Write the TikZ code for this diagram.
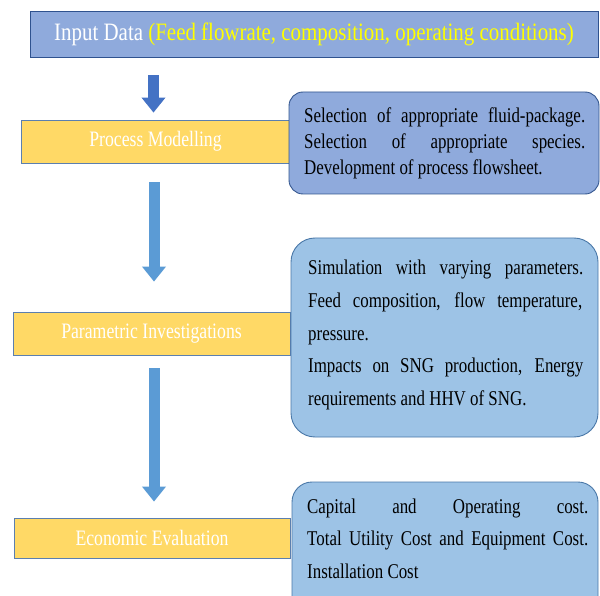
\documentclass[tikz,border=0pt]{standalone}
\usepackage{fontspec}
\usetikzlibrary{arrows.meta}

% Times-metric serif, slightly condensed
\newfontfamily\bodyfont[FakeStretch=0.805]{Liberation Serif}
\newfontfamily\headfont[FakeStretch=0.837]{Liberation Serif}

\definecolor{headfill}{HTML}{8FAADC}
\definecolor{headline}{HTML}{2F528F}
\definecolor{stagefill}{HTML}{FFD966}
\definecolor{stageline}{HTML}{5B7FAF}
\definecolor{notefillA}{HTML}{8FAADC}
\definecolor{notelineA}{HTML}{34578F}
\definecolor{notefillB}{HTML}{9DC3E6}
\definecolor{notelineB}{HTML}{4A78A8}
\definecolor{arrowdark}{HTML}{4472C4}
\definecolor{arrowlight}{HTML}{5B9BD5}
\definecolor{hiyellow}{HTML}{FFFF00}

% a line whose inter-word spaces are stretched to the given width
\newcommand\jline[2]{\makebox[#1][s]{#2}}

\tikzset{
  headbox/.style={draw=headline, line width=0.8pt, fill=headfill, inner sep=0pt,
    text=white, font=\headfont\fontsize{25}{28}\selectfont},
  stagebox/.style={draw=stageline, line width=0.8pt, fill=stagefill, inner sep=0pt,
    text=white, font=\bodyfont\fontsize{22}{26}\selectfont},
  notebox/.style={draw=#1, line width=0.9pt, inner sep=0pt},
  noteline/.style={anchor=base west, inner sep=0pt, text=black,
    font=\bodyfont\fontsize{21}{25}\selectfont},
  flow/.style={draw=#1, line width=11pt,
    -{Triangle[width=23pt,length=15pt,fill=#1]}},
}

\begin{document}
\begin{tikzpicture}[x=1pt,y=-1pt]
  \useasboundingbox (0,0) rectangle (600,596);
  \clip (0,0) rectangle (600,596);

  % header
  \node[headbox, minimum width=568pt, minimum height=46pt] (input) at (314,34)
    {Input Data \textcolor{hiyellow}{(Feed flowrate, composition, operating conditions)}};

  % the three stages
  \node[stagebox, minimum width=269pt, minimum height=43pt] (model) at (155.5,141.5)
    {Process Modelling};
  \node[stagebox, minimum width=277pt, minimum height=43pt] (param) at (151.5,333.5)
    {Parametric Investigations};
  \node[stagebox, minimum width=276pt, minimum height=40pt] (econ) at (152,538)
    {Economic Evaluation};

  % detail panels
  \node[notebox=notelineA, fill=notefillA, rounded corners=14pt,
        minimum width=310pt, minimum height=102pt] (modelnote) at (444,143) {};
  \node[notebox=notelineB, fill=notefillB, rounded corners=24pt,
        minimum width=307pt, minimum height=199pt] (paramnote) at (444.5,337.5) {};
  \node[notebox=notelineB, fill=notefillB, rounded corners=20pt,
        minimum width=306pt, minimum height=138pt] (econnote) at (445,551) {};

  % panel texts
  \node[noteline] (m1) at (304,123) {\jline{281pt}{Selection of appropriate fluid-package.}};
  \node[noteline] (m2) at (304,149) {\jline{281pt}{Selection of appropriate species.}};
  \node[noteline] (m3) at (304,175) {Development of process flowsheet.};

  \node[noteline] (p1) at (308,275) {\jline{275pt}{Simulation with varying parameters.}};
  \node[noteline] (p2) at (308,307) {\jline{274pt}{Feed composition, flow temperature,}};
  \node[noteline] (p3) at (308,340) {pressure.};
  \node[noteline] (p4) at (308,372) {\jline{275pt}{Impacts on SNG production, Energy}};
  \node[noteline] (p5) at (308,405) {requirements and HHV of SNG.};

  \node[noteline] (e1) at (307,513) {\jline{281pt}{Capital and Operating cost.}};
  \node[noteline] (e2) at (307,545) {\jline{281pt}{Total Utility Cost and Equipment Cost.}};
  \node[noteline] (e3) at (307,578) {Installation Cost};

  % flow arrows between the stages
  \coordinate (axisA) at (153.5,0);
  \coordinate (axisB) at (154,0);
  \draw[flow=arrowdark, shorten <=18pt, shorten >=7pt]
    (axisA |- input.south) -- (axisA |- model.north);
  \draw[flow=arrowlight, shorten <=19pt, shorten >=30pt]
    (axisB |- model.south) -- (axisB |- param.north);
  \draw[flow=arrowlight, shorten <=13pt, shorten >=16pt]
    (axisB |- param.south) -- (axisB |- econ.north);
\end{tikzpicture}
\end{document}
